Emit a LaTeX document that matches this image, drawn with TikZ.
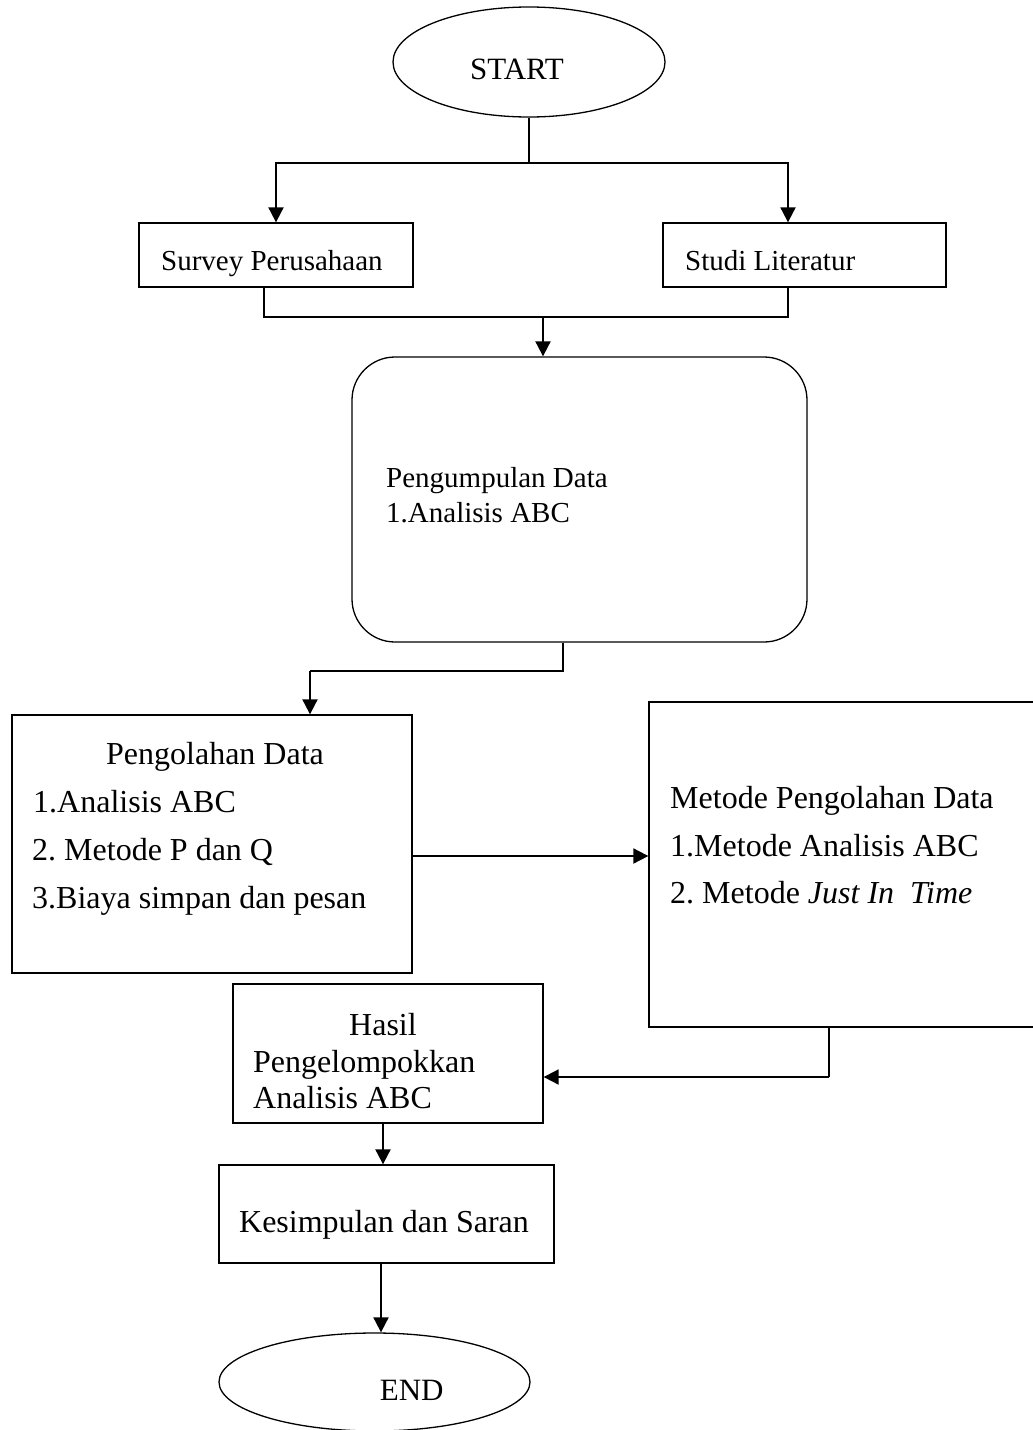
\documentclass[tikz,border=0pt]{standalone}
\usepackage{fontspec}
\setmainfont{Liberation Serif}
\usetikzlibrary{arrows.meta,shapes.geometric}
\frenchspacing
\begin{document}
\begin{tikzpicture}[x=1pt,y=-1pt,
  box/.style={draw,line width=1.3pt,rectangle,inner sep=0pt},
  oval/.style={draw,line width=1.3pt,ellipse,inner sep=0pt},
  plainline/.style={line width=1.1pt},
  arr/.style={line width=1.9pt,-{Triangle[length=15pt,width=15pt]}},
  txt/.style={inner sep=0pt,anchor=base west},
  ctxt/.style={inner sep=0pt,anchor=base},
  fs/.style={font=\fontsize{29}{35}\selectfont},
  fl/.style={font=\fontsize{32}{38}\selectfont}]
\useasboundingbox (0,0) rectangle (1033,1430);
\clip (0,0) rectangle (1033,1430);
% shapes
\node[oval,minimum width=272pt,minimum height=110pt] (start) at (529,62) {};
\node[box,minimum width=274pt,minimum height=64pt] (survey) at (276,255) {};
\node[box,minimum width=283pt,minimum height=64pt] (studi) at (804.5,255) {};
\node[box,rounded corners=43pt,minimum width=455pt,minimum height=285pt] (kumpul) at (579.5,499.5) {};
\node[box,minimum width=400pt,minimum height=258pt] (olah) at (212,844) {};
\node[box,minimum width=401pt,minimum height=325pt] (metode) at (849.5,864.5) {};
\node[box,minimum width=310pt,minimum height=139pt] (hasil) at (388,1053.5) {};
\node[box,minimum width=335pt,minimum height=98pt] (simpul) at (386.5,1214) {};
\node[oval,minimum width=311pt,minimum height=98pt] (end) at (374.5,1382) {};
% texts
\node[ctxt,font=\fontsize{31}{37}\selectfont] (tstart) at (517,79) {START};
\node[txt,fs] (tsurvey) at (161,270) {Survey Perusahaan};
\node[txt,fs] (tstudi) at (685,270) {Studi Literatur};
\node[txt,fs] (tk1) at (386,487) {Pengumpulan Data};
\node[txt,fs] (tk2) at (386,522) {1.Analisis ABC};
\node[ctxt,fl] (to0) at (215,764) {Pengolahan Data};
\node[txt,fl] (to1) at (33,812) {1.Analisis ABC};
\node[txt,fl] (to2) at (32,860) {2. Metode P dan Q};
\node[txt,fl] (to3) at (32,908) {3.Biaya simpan dan pesan};
\node[txt,fl] (tm0) at (670,808) {Metode Pengolahan Data};
\node[txt,fl] (tm1) at (670,856) {1.Metode Analisis ABC};
\node[txt,fl] (tm2) at (670,903) {2. Metode \textit{Just In\ \ Time}};
\node[ctxt,fl] (th0) at (383,1035) {Hasil};
\node[txt,fl] (th1) at (253,1072) {Pengelompokkan};
\node[txt,fl] (th2) at (253,1108) {Analisis ABC};
\node[ctxt,fl] (ts) at (384,1232) {Kesimpulan dan Saran};
\node[ctxt,font=\fontsize{31}{37}\selectfont] (tend) at (411.7,1400) {END};
% junction coordinates
\coordinate (j1) at (529,163);
\coordinate (b1) at (264,317);
\coordinate (b2) at (788,317);
\coordinate (b3) at (543,317);
\coordinate (c1) at (563,671);
\coordinate (c2) at (310,671);
\coordinate (m) at (0,856);
\coordinate (d1) at (829,1077);
\coordinate (e1) at (383,0);
\coordinate (e2) at (381,0);
% connectors
\draw[plainline] (start.south) -- (j1);
\draw[plainline] (275,163) -- (788,163);
\draw[arr] (j1) -| (survey.north);
\draw[arr] (j1) -| ([xshift=-16.5pt]studi.north);
\draw[plainline] ([xshift=-12pt]survey.south) -- (b1) -- (b2) -- ([xshift=-16.5pt]studi.south);
\draw[arr] (b3) -- (kumpul.north -| b3);
\draw[plainline] (kumpul.south -| c1) -- (c1) -- (c2);
\draw[arr] (c2) -- (olah.north -| c2);
\draw[arr] (olah.east |- m) -- (metode.west |- m);
\draw[plainline] (metode.south -| d1) -- (d1);
\draw[arr] (d1) -- (hasil.east |- d1);
\draw[arr] (hasil.south -| e1) -- (simpul.north -| e1);
\draw[arr] (simpul.south -| e2) -- (end.north -| e2);
\end{tikzpicture}
\end{document}
